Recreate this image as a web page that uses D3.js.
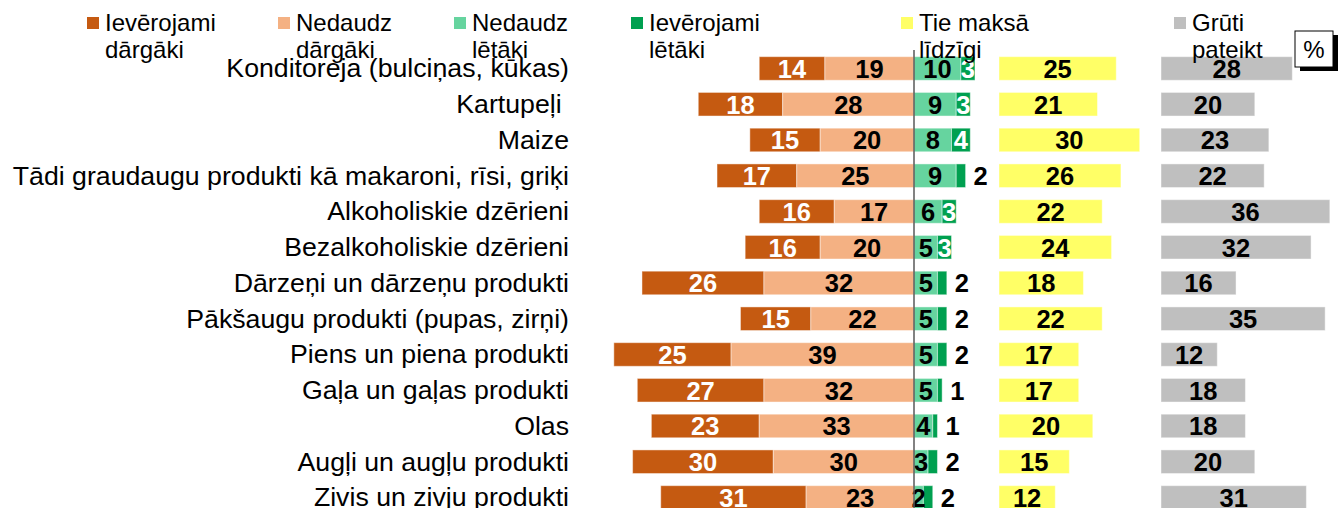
<!DOCTYPE html>
<html>
<head>
<meta charset="utf-8">
<script src="https://cdn.jsdelivr.net/npm/d3@7"></script>
<style>
    body { margin: 0; background: #fff; }
    svg { display: block; font-family: "Liberation Sans", Arial, sans-serif; }
</style>
</head>
<body>
<div id="chart"></div>
<script>
    // categories (top to bottom)
    const categories = [
        "Konditoreja (bulciņas, kūkas)",
        "Kartupeļi ",
        "Maize",
        "Tādi graudaugu produkti kā makaroni, rīsi, griķi",
        "Alkoholiskie dzērieni",
        "Bezalkoholiskie dzērieni",
        "Dārzeņi un dārzeņu produkti",
        "Pākšaugu produkti (pupas, zirņi)",
        "Piens un piena produkti",
        "Gaļa un gaļas produkti",
        "Olas",
        "Augļi un augļu produkti",
        "Zivis un zivju produkti"
    ];

    // series values, %
    const muchDearer = [14, 18, 15, 17, 16, 16, 26, 15, 25, 27, 23, 30, 31];
    const bitDearer = [19, 28, 20, 25, 17, 20, 32, 22, 39, 32, 33, 30, 23];
    const bitCheaper = [10, 9, 8, 9, 6, 5, 5, 5, 5, 5, 4, 3, 2];
    const muchCheaper = [3, 3, 4, 2, 3, 3, 2, 2, 2, 1, 1, 2, 2];
    const same = [25, 21, 30, 26, 22, 24, 18, 22, 17, 17, 20, 15, 12];
    const hardToSay = [28, 20, 23, 22, 36, 32, 16, 35, 12, 18, 18, 20, 31];

    const legendLabels = [
        ["Ievērojami", "dārgāki"],
        ["Nedaudz", "dārgāki"],
        ["Nedaudz", "lētāki"],
        ["Ievērojami", "lētāki"],
        ["Tie maksā", "līdzīgi"],
        ["Grūti", "pateikt"]
    ];

    const colors = ["#C55A11", "#F4B183", "#66D49F", "#00A050", "#FFFF66", "#BFBFBF"];

    const width = 1340, height = 508;
    const centerX = 914, sameX = 999, hardX = 1161;

    const svg = d3.select("#chart").append("svg")
        .attr("width", width)
        .attr("height", height);

    const w = d3.scaleLinear().domain([0, 100]).range([0, 469]);

    const y = d3.scaleBand()
        .domain(categories)
        .range([50.6, 50.6 + categories.length * 35.75])
        .paddingInner(0.34)
        .paddingOuter(0.17);

    const rows = categories.map(function (c, i) {
        return {
            cat: c,
            md: muchDearer[i], bd: bitDearer[i],
            bc: bitCheaper[i], mc: muchCheaper[i],
            sm: same[i], hs: hardToSay[i]
        };
    });

    // one row's segments: start x, value, fill, label colour
    function segments(d) {
        return [
            { x: centerX - w(d.md + d.bd), v: d.md, c: colors[0], t: "#fff" },
            { x: centerX - w(d.bd), v: d.bd, c: colors[1], t: "#000" },
            { x: centerX, v: d.bc, c: colors[2], t: "#000" },
            { x: centerX + w(d.bc), v: d.mc, c: colors[3], t: "#fff", out: d.mc < 3 },
            { x: sameX, v: d.sm, c: colors[4], t: "#000" },
            { x: hardX, v: d.hs, c: colors[5], t: "#000" }
        ];
    }

    // category labels
    svg.append("g").selectAll("text")
        .data(rows)
        .enter().append("text")
        .attr("x", 569)
        .attr("y", function (d) { return y(d.cat) + y.bandwidth() / 2 + 9; })
        .attr("text-anchor", "end")
        .style("font-size", "26.7px")
        .style("white-space", "pre")
        .attr("fill", "#000")
        .text(function (d) { return d.cat; });

    const row = svg.append("g").selectAll("g")
        .data(rows)
        .enter().append("g")
        .attr("transform", function (d) { return "translate(0," + y(d.cat) + ")"; });

    row.selectAll("rect")
        .data(segments)
        .enter().append("rect")
        .attr("x", function (s) { return s.x; })
        .attr("y", 0)
        .attr("width", function (s) { return w(s.v); })
        .attr("height", y.bandwidth())
        .attr("fill", function (s) { return s.c; })
        .attr("stroke", "#fff")
        .attr("stroke-opacity", 0.45)
        .attr("stroke-width", 1);

    row.selectAll("text")
        .data(segments)
        .enter().append("text")
        .attr("x", function (s) {
            return s.out ? s.x + w(s.v) + 8 : s.x + w(s.v) / 2;
        })
        .attr("y", y.bandwidth() / 2 + 9.5)
        .attr("text-anchor", function (s) { return s.out ? "start" : "middle"; })
        .style("font-size", "25.5px")
        .style("font-weight", "bold")
        .attr("fill", function (s) { return s.out ? "#000" : s.t; })
        .text(function (s) { return s.v; });

    // centre line
    svg.append("line")
        .attr("x1", centerX).attr("x2", centerX)
        .attr("y1", 50).attr("y2", height)
        .attr("stroke", "#595959")
        .attr("stroke-width", 1.5);

    // legend
    const legendX = [87, 278, 454, 631, 901, 1174];
    const legend = svg.append("g").selectAll("g")
        .data(legendLabels)
        .enter().append("g")
        .attr("transform", function (d, i) { return "translate(" + legendX[i] + ",0)"; });

    legend.append("rect")
        .attr("x", 0).attr("y", 17)
        .attr("width", 12).attr("height", 12)
        .attr("fill", function (d, i) { return colors[i]; });

    legend.append("text")
        .attr("x", 18).attr("y", 31)
        .style("font-size", "24px")
        .text(function (d) { return d[0]; });

    legend.append("text")
        .attr("x", 18).attr("y", 58)
        .style("font-size", "24px")
        .text(function (d) { return d[1]; });

    // % box
    svg.append("rect")
        .attr("x", 1300).attr("y", 35)
        .attr("width", 38).attr("height", 36)
        .attr("fill", "#000");
    svg.append("rect")
        .attr("x", 1295).attr("y", 31)
        .attr("width", 38).attr("height", 36)
        .attr("fill", "#fff")
        .attr("stroke", "#000")
        .attr("stroke-width", 1);
    svg.append("text")
        .attr("x", 1314).attr("y", 58)
        .attr("text-anchor", "middle")
        .style("font-size", "24px")
        .text("%");
</script>
</body>
</html>
